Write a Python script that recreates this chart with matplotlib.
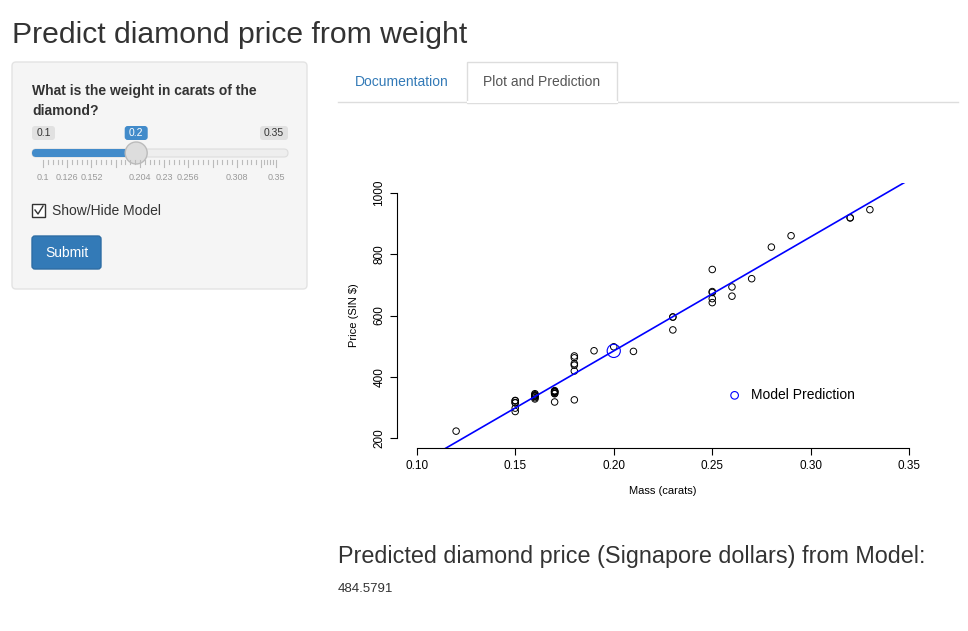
import matplotlib.pyplot as plt
from matplotlib.patches import FancyBboxPatch, Rectangle, Circle
import numpy as np

plt.rcParams['font.family'] = ['Liberation Sans', 'DejaVu Sans']

carat = [0.17, 0.16, 0.17, 0.18, 0.25, 0.16, 0.15, 0.19, 0.21, 0.15, 0.18, 0.28, 0.16, 0.20, 0.23, 0.29,
         0.12, 0.26, 0.25, 0.27, 0.18, 0.16, 0.17, 0.16, 0.17, 0.18, 0.17, 0.18, 0.17, 0.15, 0.17, 0.32,
         0.32, 0.15, 0.16, 0.16, 0.23, 0.23, 0.17, 0.33, 0.25, 0.35, 0.18, 0.25, 0.25, 0.15, 0.26, 0.15]
price = [355, 328, 350, 325, 642, 342, 322, 485, 483, 323, 462, 823, 336, 498, 595, 860,
         223, 663, 750, 720, 468, 345, 352, 332, 353, 438, 318, 419, 346, 315, 350, 918,
         919, 298, 339, 338, 595, 553, 345, 945, 655, 1086, 443, 678, 675, 287, 693, 316]
selected = 0.2
slider_ticks = [0.1, 0.126, 0.152, 0.178, 0.204, 0.23, 0.256, 0.282, 0.308, 0.334, 0.35]
slider_labels = ['0.1', '0.126', '0.152', '', '0.204', '0.23', '0.256', '', '0.308', '', '0.35']

slope, intercept = np.polyfit(carat, price, 1)
pred = intercept + slope * selected

W, H = 968, 631
fig = plt.figure(figsize=(W / 100, H / 100), dpi=100)
ui = fig.add_axes([0, 0, 1, 1])
ui.set_xlim(0, W)
ui.set_ylim(H, 0)
ui.axis('off')

ui.text(12, 35, 'Predict diamond price from weight', fontsize=21.7, color='#333333', va='center')

# sidebar
ui.add_patch(FancyBboxPatch((12, 62), 295, 227, boxstyle='round,pad=0,rounding_size=4',
                            fc='#f5f5f5', ec='#e3e3e3', lw=1))
ui.text(32, 91, 'What is the weight in carats of the', fontsize=10, weight='bold', color='#333333', va='center')
ui.text(32, 111, 'diamond?', fontsize=10, weight='bold', color='#333333', va='center')

def sx(v):
    return 43 + (v - 0.1) * 932

for v, lab, fc, tc in [(0.1, '0.1', '#e1e1e1', '#333333'), (selected, '0.2', '#428bca', 'white'),
                       (0.35, '0.35', '#e1e1e1', '#333333')]:
    x = sx(v)
    w = 8 + 5 * len(lab)
    x = min(max(x, 32 + w / 2), 288 - w / 2)
    ui.add_patch(FancyBboxPatch((x - w / 2, 126), w, 14, boxstyle='round,pad=0,rounding_size=3', fc=fc, ec='none'))
    ui.text(x, 133, lab, fontsize=7.5, color=tc, ha='center', va='center')

ui.add_patch(FancyBboxPatch((32, 149), 256, 8, boxstyle='round,pad=0,rounding_size=4', fc='#eeeeee', ec='#dddddd', lw=0.8))
ui.add_patch(FancyBboxPatch((32, 149), sx(selected) - 32, 8, boxstyle='round,pad=0,rounding_size=4', fc='#428bca', ec='none'))
for i, v in enumerate(slider_ticks[:-1]):
    ui.plot([sx(v), sx(v)], [160, 167], color='#bbbbbb', lw=0.8)
    nxt = slider_ticks[i + 1]
    for k in range(1, 5):
        m = v + (nxt - v) * k / 5
        if m < 0.35:
            ui.plot([sx(m), sx(m)], [160, 164], color='#bbbbbb', lw=0.8)
ui.plot([sx(0.35), sx(0.35)], [160, 167], color='#bbbbbb', lw=0.8)
for v, lab in zip(slider_ticks, slider_labels):
    ui.text(sx(v), 177, lab, fontsize=6.5, color='#999999', ha='center', va='center')
ui.add_patch(Circle((sx(selected), 153), 11, fc='#dddddd', ec='#bbbbbb', lw=1))

ui.add_patch(Rectangle((32, 204), 13, 13, fc='white', ec='#333333', lw=1))
ui.plot([35, 38, 43], [210, 214, 206], color='#333333', lw=1)
ui.text(52, 211, 'Show/Hide Model', fontsize=10, color='#333333', va='center')

ui.add_patch(FancyBboxPatch((32, 236), 69, 33, boxstyle='round,pad=0,rounding_size=3', fc='#337ab7', ec='#2e6da4'))
ui.text(66.5, 253, 'Submit', fontsize=10, color='white', ha='center', va='center')

# tabs
ui.plot([338, 958], [102, 102], color='#dddddd', lw=1)
ui.text(402, 82, 'Documentation', fontsize=10, color='#337ab7', ha='center', va='center')
ui.add_patch(Rectangle((467, 62), 150, 40.5, fc='white', ec='#dddddd', lw=1))
ui.plot([467.5, 616.5], [102, 102], color='white', lw=1.5)
ui.text(542, 82, 'Plot and Prediction', fontsize=10, color='#555555', ha='center', va='center')

ui.text(338, 557, 'Predicted diamond price (Signapore dollars) from Model:', fontsize=16.8, color='#333333', va='center')
ui.text(338, 589, f'{pred:.4f}', fontsize=9.5, color='#333333', va='center')

# plot
ax = fig.add_axes([397 / W, (H - 448) / H, 532 / W, 265 / H])
ax.scatter(carat, price, s=22, facecolors='none', edgecolors='black', linewidths=0.7)
xs = np.array([0.09, 0.36])
ax.plot(xs, intercept + slope * xs, color='blue', lw=1.2)
ax.scatter([selected], [pred], s=90, facecolors='none', edgecolors='blue', linewidths=0.8, zorder=3)
ax.set_xlim(0.09, 0.36)
ax.set_ylim(168, 1032)
for s in ['top', 'right']:
    ax.spines[s].set_visible(False)
ax.spines['bottom'].set_bounds(0.1, 0.35)
ax.spines['left'].set_bounds(200, 1000)
ax.set_xticks([0.1, 0.15, 0.2, 0.25, 0.3, 0.35])
ax.set_xticklabels(['0.10', '0.15', '0.20', '0.25', '0.30', '0.35'])
ax.set_yticks([200, 400, 600, 800, 1000])
ax.set_yticklabels(['200', '400', '600', '800', '1000'], rotation=90, va='center')
ax.tick_params(labelsize=8.5, length=5)
ax.set_xlabel('Mass (carats)', fontsize=8, labelpad=10)
ax.set_ylabel('Price (SIN $)', fontsize=8, labelpad=10)
ax.scatter([], [], s=30, facecolors='none', edgecolors='blue', linewidths=0.8, label='Model Prediction')
ax.legend(loc='center left', bbox_to_anchor=(0.585, 0.2), frameon=False, fontsize=10, handletextpad=0.2)

fig.savefig('out.png', dpi=100)
